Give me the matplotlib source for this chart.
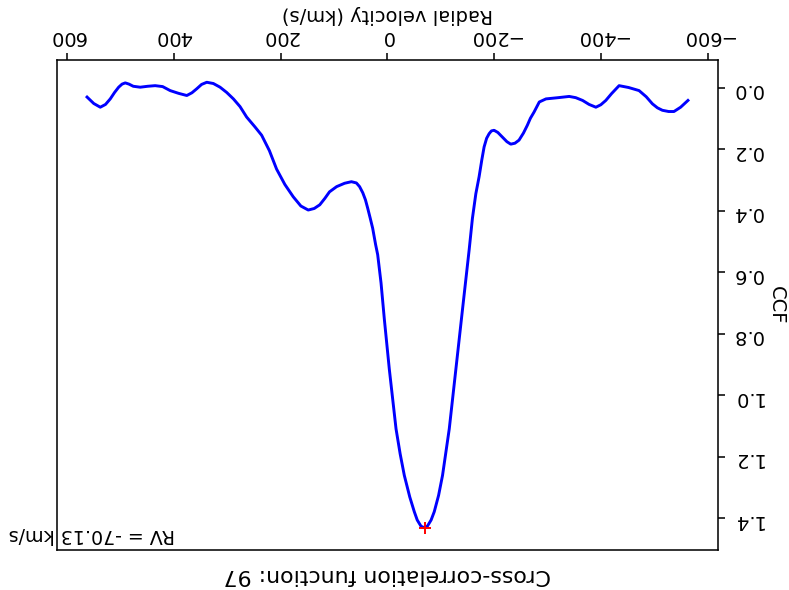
import numpy as np
import matplotlib
matplotlib.use('Agg')
import matplotlib.pyplot as plt

# cross-correlation function
rv = [562.6, 550, 537.8, 528, 519.1, 511, 503.4, 497, 491, 484, 476, 463, 449, 435, 421,
      406.9, 391, 375.7, 366, 357, 348, 338.3, 326, 313.4, 301, 288.4, 276, 263.6, 248,
      235.5, 221, 207.5, 192, 176.3, 162, 148.2, 137, 126.6, 117, 108.4, 95, 80, 67.3, 58,
      52, 46, 41, 36.8, 32, 27.5, 22, 18.1, 11.8, 5.6, -3.7, -16.3, -24, -31.8, -42, -50.5,
      -56, -63, -69.2, -75, -82, -87.9, -96, -103.4, -116, -128.4, -140.8, -153.3, -159.4,
      -165.8, -171.9, -177, -181.3, -186, -190.7, -195, -200, -207, -215.5, -224, -231.2,
      -239, -246.7, -255, -262.2, -268, -274.8, -284.7, -297.2, -320, -340.7, -353, -365.8,
      -378, -390.7, -400, -409.3, -420, -434.2, -452, -471.6, -485, -496.6, -506, -515.3,
      -527, -537, -549.5, -563.2]
ccf = [0.031, 0.052, 0.064, 0.055, 0.037, 0.016, -0.001, -0.011, -0.015, -0.011, -0.004,
       -0.001, -0.004, -0.006, -0.003, 0.010, 0.019, 0.026, 0.017, 0.004, -0.01, -0.017,
       -0.013, -0.001, 0.016, 0.037, 0.062, 0.096, 0.128, 0.155, 0.205, 0.265, 0.315, 0.355,
       0.385, 0.398, 0.393, 0.381, 0.36, 0.339, 0.322, 0.311, 0.306, 0.31, 0.322, 0.342,
       0.365, 0.392, 0.425, 0.457, 0.51, 0.543, 0.635, 0.753, 0.915, 1.109, 1.19, 1.26, 1.33,
       1.378, 1.405, 1.425, 1.430, 1.425, 1.405, 1.378, 1.325, 1.26, 1.109, 0.915, 0.721,
       0.527, 0.425, 0.345, 0.29, 0.235, 0.193, 0.165, 0.150, 0.141, 0.139, 0.146, 0.161,
       0.176, 0.184, 0.181, 0.171, 0.148, 0.123, 0.1, 0.080, 0.047, 0.037, 0.033, 0.029,
       0.033, 0.042, 0.055, 0.064, 0.056, 0.042, 0.02, -0.006, 0.0, 0.010, 0.03, 0.053,
       0.066, 0.074, 0.078, 0.078, 0.064, 0.042]
rv_peak = -70.13
ccf_peak = 1.430
number = 97

fig = plt.figure(figsize=(789 / 140, 590 / 140), dpi=140)
ax = fig.add_axes([57 / 789, 40 / 590, 661 / 789, 490 / 590])

ax.plot(rv, ccf, 'b-')
ax.plot(rv_peak, ccf_peak, 'r+')

# the whole chart is shown turned upside down
ax.invert_xaxis()
ax.invert_yaxis()
ax.xaxis.tick_top()
ax.xaxis.set_label_position('top')
ax.yaxis.tick_right()
ax.yaxis.set_label_position('right')
ax.tick_params(axis='both', labelrotation=180)

ax.set_xlabel('Radial velocity (km/s)', rotation=180)
ax.set_ylabel('CCF', rotation=270, labelpad=12)

ax.text(0.053, 0.031, 'RV = %.2f km/s' % rv_peak, rotation=180, ha='center', va='center',
        fontsize=9.8, transform=ax.transAxes, clip_on=False)
ax.text(0.5, -0.051, 'Cross-correlation function: %d' % number, rotation=180,
        ha='center', va='center', fontsize=11.4, transform=ax.transAxes)

fig.savefig('out.png', dpi=140)
